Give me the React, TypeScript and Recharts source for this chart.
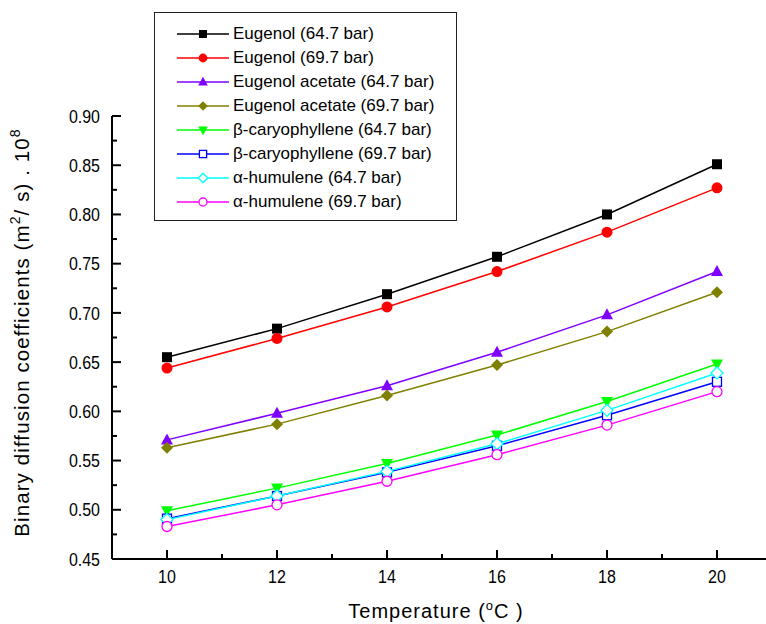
import React from "react";
import { Legend, Line, LineChart, XAxis, YAxis } from "recharts";

const temperatures = [10, 12, 14, 16, 18, 20];
const eugenol647 = [0.655, 0.684, 0.719, 0.757, 0.8, 0.851];
const eugenol697 = [0.644, 0.674, 0.706, 0.742, 0.782, 0.827];
const acetate647 = [0.571, 0.598, 0.626, 0.66, 0.698, 0.742];
const acetate697 = [0.563, 0.587, 0.616, 0.647, 0.681, 0.721];
const caryo647 = [0.499, 0.522, 0.547, 0.576, 0.61, 0.648];
const caryo697 = [0.491, 0.514, 0.538, 0.565, 0.596, 0.63];
const humulene647 = [0.49, 0.514, 0.539, 0.567, 0.601, 0.639];
const humulene697 = [0.483, 0.505, 0.529, 0.556, 0.586, 0.62];

const majorXTicks = [10, 12, 14, 16, 18, 20];
const minorXTicks = [11, 13, 15, 17, 19];
const majorYTicks = [0.45, 0.5, 0.55, 0.6, 0.65, 0.7, 0.75, 0.8, 0.85, 0.9];
const minorYTicks = [0.475, 0.525, 0.575, 0.625, 0.675, 0.725, 0.775, 0.825, 0.875];

type Shape = "square" | "circle" | "triUp" | "diamond" | "triDown";

const series: { key: string; name: string; color: string; shape: Shape; filled: boolean; values: number[] }[] = [
  { key: "e647", name: "Eugenol (64.7 bar)", color: "#000000", shape: "square", filled: true, values: eugenol647 },
  { key: "e697", name: "Eugenol (69.7 bar)", color: "#ff0000", shape: "circle", filled: true, values: eugenol697 },
  { key: "a647", name: "Eugenol acetate (64.7 bar)", color: "#8000ff", shape: "triUp", filled: true, values: acetate647 },
  { key: "a697", name: "Eugenol acetate (69.7 bar)", color: "#808000", shape: "diamond", filled: true, values: acetate697 },
  { key: "c647", name: "β-caryophyllene (64.7 bar)", color: "#00ff00", shape: "triDown", filled: true, values: caryo647 },
  { key: "c697", name: "β-caryophyllene (69.7 bar)", color: "#0000ff", shape: "square", filled: false, values: caryo697 },
  { key: "h647", name: "α-humulene (64.7 bar)", color: "#00ffff", shape: "diamond", filled: false, values: humulene647 },
  { key: "h697", name: "α-humulene (69.7 bar)", color: "#ff00ff", shape: "circle", filled: false, values: humulene697 },
];

const data = temperatures.map((t, i) => {
  const row: Record<string, number> = { t };
  series.forEach((s) => {
    row[s.key] = s.values[i];
  });
  return row;
});

const FONT = "'Liberation Sans', Arial, sans-serif";

function Marker({ cx, cy, shape, color, filled, scale = 1 }: { cx: number; cy: number; shape: Shape; color: string; filled: boolean; scale?: number }) {
  const fill = filled ? color : "#ffffff";
  const sw = filled ? 0 : 1.3;
  const k = scale;
  if (shape === "square") {
    const h = (filled ? 5 : 4.5) * k;
    return <rect x={cx - h} y={cy - h} width={2 * h} height={2 * h} fill={fill} stroke={color} strokeWidth={sw} />;
  }
  if (shape === "circle") {
    return <circle cx={cx} cy={cy} r={(filled ? 5.5 : 5) * k} fill={fill} stroke={color} strokeWidth={sw} />;
  }
  if (shape === "diamond") {
    const h = 6 * k;
    return <polygon points={`${cx},${cy - h} ${cx + h},${cy} ${cx},${cy + h} ${cx - h},${cy}`} fill={fill} stroke={color} strokeWidth={sw} />;
  }
  const w = 6 * k;
  const s = shape === "triUp" ? 1 : -1;
  return (
    <polygon
      points={`${cx},${cy - s * 6.5 * k} ${cx + w},${cy + s * 4.5 * k} ${cx - w},${cy + s * 4.5 * k}`}
      fill={fill}
      stroke={color}
      strokeWidth={sw}
    />
  );
}

function XTick(props: any) {
  const { x, y, payload } = props;
  const major = majorXTicks.includes(payload.value);
  return (
    <g>
      <line x1={x} x2={x} y1={y} y2={y - (major ? 9 : 5)} stroke="#000" strokeWidth={2} />
      {major ? (
        <text x={x} y={y + 24} textAnchor="middle" fontSize={16} fontFamily={FONT} fill="#000" transform={`translate(0, ${y + 24}) scale(1, 1.12) translate(0, ${-(y + 24)})`}>
          {payload.value}
        </text>
      ) : null}
    </g>
  );
}

function YTick(props: any) {
  const { x, y, payload } = props;
  const major = majorYTicks.some((v) => Math.abs(v - payload.value) < 1e-6);
  return (
    <g>
      <line x1={x} x2={x + (major ? 9 : 5)} y1={y} y2={y} stroke="#000" strokeWidth={2} />
      {major ? (
        <text x={x - 12} y={y + 6} textAnchor="end" fontSize={16} fontFamily={FONT} fill="#000" transform={`translate(0, ${y}) scale(1, 1.12) translate(0, ${-y})`}>
          {payload.value.toFixed(2)}
        </text>
      ) : null}
    </g>
  );
}

function LegendBox() {
  return (
    <div
      style={{
        width: 303,
        height: 209,
        boxSizing: "border-box",
        border: "1px solid #222",
        background: "#fff",
        paddingTop: 9,
      }}
    >
      {series.map((s) => (
        <div key={s.key} style={{ display: "flex", alignItems: "center", height: 24 }}>
          <svg width={78} height={24} style={{ display: "block", flexShrink: 0 }}>
            <line x1={22} x2={74} y1={12} y2={12} stroke={s.color} strokeWidth={1.5} />
            <Marker cx={48} cy={12} shape={s.shape} color={s.color} filled={s.filled} scale={0.8} />
          </svg>
          <span style={{ fontFamily: FONT, fontSize: 17, color: "#000", whiteSpace: "nowrap" }}>{s.name}</span>
        </div>
      ))}
    </div>
  );
}

export default function App() {
  return (
    <div style={{ position: "absolute", left: 0, top: 0, width: 766, height: 624, overflow: "hidden", background: "#fff" }}>
      <LineChart width={800} height={624} data={data} margin={{ top: 116, right: 28, bottom: 0, left: 0 }}>
        <XAxis
          dataKey="t"
          type="number"
          domain={[9, 21]}
          ticks={[...majorXTicks, ...minorXTicks].sort((a, b) => a - b)}
          interval={0}
          height={65}
          tickSize={0}
          tickMargin={0}
          tickLine={false}
          axisLine={{ stroke: "#000", strokeWidth: 2 }}
          tick={<XTick />}
          label={(p: any) => {
            const vb = p.viewBox;
            const ty = vb.y + 59;
            return (
              <text
                x={436}
                y={ty}
                textAnchor="middle"
                fontSize={20}
                letterSpacing={1}
                fontFamily={FONT}
                fill="#000"
              >
                Temperature (
                <tspan dy={-8} fontSize={13}>o</tspan>
                <tspan dy={8}>C )</tspan>
              </text>
            );
          }}
        />
        <XAxis
          xAxisId="top"
          orientation="top"
          type="number"
          domain={[9, 21]}
          height={0}
          tick={false}
          tickLine={false}
          axisLine={{ stroke: "#000", strokeWidth: 2 }}
        />
        <YAxis
          type="number"
          domain={[0.45, 0.9]}
          ticks={[...majorYTicks, ...minorYTicks].sort((a, b) => a - b)}
          interval={0}
          width={112}
          tickSize={0}
          tickMargin={0}
          tickLine={false}
          axisLine={{ stroke: "#000", strokeWidth: 2 }}
          tick={<YTick />}
          label={(p: any) => {
            const vb = p.viewBox;
            const cy = vb.y + vb.height / 2 - 5;
            return (
              <text
                transform={`translate(24, ${cy}) rotate(-90)`}
                x={0}
                y={0}
                textAnchor="middle"
                dominantBaseline="middle"
                fontSize={20.5}
                letterSpacing={1.1}
                fontFamily={FONT}
                fill="#000"
              >
                Binary diffusion coefficients (m
                <tspan dy={-8} fontSize={14}>2</tspan>
                <tspan dy={8}>/ s) . 10</tspan>
                <tspan dy={-8} fontSize={14}>8</tspan>
              </text>
            );
          }}
        />
        <Legend
          layout="vertical"
          align="center"
          verticalAlign="middle"
          content={() => <LegendBox />}
          wrapperStyle={{ position: "absolute", left: 154, top: 12, width: 303, height: 209 }}
        />
        {series.map((s) => (
          <Line
            key={s.key}
            dataKey={s.key}
            name={s.name}
            stroke={s.color}
            strokeWidth={1.5}
            isAnimationActive={false}
            dot={(p: any) => (
              <Marker key={`${s.key}-${p.index}`} cx={p.cx} cy={p.cy} shape={s.shape} color={s.color} filled={s.filled} />
            )}
            activeDot={false}
          />
        ))}
      </LineChart>
    </div>
  );
}
